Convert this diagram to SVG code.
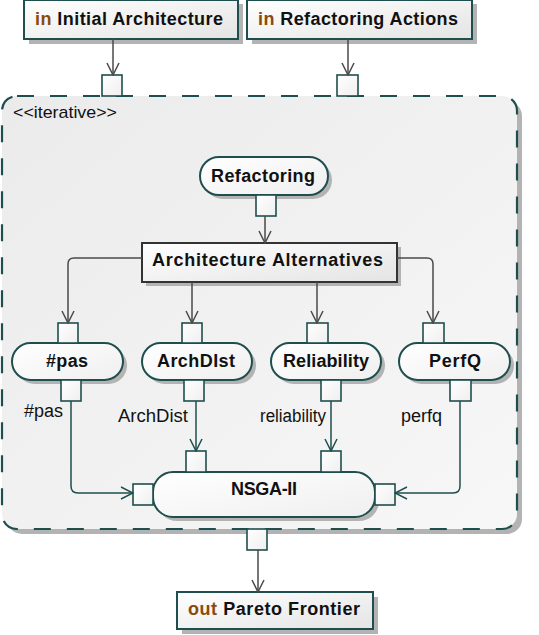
<svg xmlns="http://www.w3.org/2000/svg" width="539" height="635" viewBox="0 0 539 635">
<defs>
<linearGradient id="gBox" x1="0" y1="0" x2="1" y2="1"><stop offset="0" stop-color="#ffffff"/><stop offset="1" stop-color="#e4e4e4"/></linearGradient>
<linearGradient id="gNode" x1="0" y1="0" x2="1" y2="1"><stop offset="0" stop-color="#ffffff"/><stop offset="1" stop-color="#efefef"/></linearGradient>
<linearGradient id="gRegion" x1="0" y1="0" x2="1" y2="1"><stop offset="0" stop-color="#ebebeb"/><stop offset="1" stop-color="#f7f7f7"/></linearGradient>
<marker id="arrG" viewBox="0 0 14 14" refX="13" refY="7" markerWidth="14" markerHeight="14" markerUnits="userSpaceOnUse" orient="auto"><path d="M1,1 L13,7 L1,13" fill="none" stroke="#4a4a4a" stroke-width="1.5"/></marker>
<marker id="arrT" viewBox="0 0 14 14" refX="13" refY="7" markerWidth="14" markerHeight="14" markerUnits="userSpaceOnUse" orient="auto"><path d="M1,1 L13,7 L1,13" fill="none" stroke="#1f4e4e" stroke-width="1.5"/></marker>
</defs>
<style>
.box{fill:url(#gBox);stroke:#1f4e4e;stroke-width:2}
.node{fill:url(#gNode);stroke:#1f4e4e;stroke-width:2}
.pin{fill:url(#gNode);stroke:#1f4e4e;stroke-width:1.6}
.sh{fill:#b3b3b3}
.bt{font-family:"Liberation Sans",Arial,sans-serif;font-weight:bold;font-size:18px;fill:#111}
.kw{fill:#8a4a0a}
.lbl{font-family:"Liberation Sans",Arial,sans-serif;font-size:18px;fill:#111}
.ster{font-family:"Liberation Sans",Arial,sans-serif;font-size:17px;fill:#111}
.cg{fill:none;stroke:#4a4a4a;stroke-width:1.5}
.ct{fill:none;stroke:#1f4e4e;stroke-width:1.5}
</style>

<g id="region">
<rect x="7" y="101" width="515" height="433" rx="15" class="sh"/>
<rect x="2" y="96" width="515" height="433" rx="15" fill="url(#gRegion)" stroke="#1f4e4e" stroke-width="2.2" stroke-dasharray="17 16"/>
<text x="13" y="118" class="ster" textLength="104" lengthAdjust="spacingAndGlyphs">&lt;&lt;iterative&gt;&gt;</text>
</g>

<g id="in-initial-architecture">
<rect x="29" y="4" width="214" height="40" class="sh"/>
<rect x="24" y="0" width="214" height="39" class="box"/>
<text x="35" y="25" class="bt" textLength="188" lengthAdjust="spacing"><tspan class="kw">in</tspan> Initial Architecture</text>
</g>

<g id="in-refactoring-actions">
<rect x="252" y="4" width="225" height="40" class="sh"/>
<rect x="247" y="0" width="225" height="39" class="box"/>
<text x="258" y="25" class="bt" textLength="200" lengthAdjust="spacing"><tspan class="kw">in</tspan> Refactoring Actions</text>
</g>

<g id="pins-region">
<rect x="102" y="75" width="20" height="21" class="pin"/>
<rect x="337" y="75" width="21" height="21" class="pin"/>
<rect x="247" y="529" width="20" height="21" class="pin"/>
</g>

<g id="refactoring">
<rect x="204" y="161" width="128" height="38" rx="19" class="sh"/>
<rect x="200" y="157" width="128" height="38" rx="19" class="node"/>
<text x="211" y="182" class="bt" textLength="104" lengthAdjust="spacing">Refactoring</text>
<rect x="256" y="195" width="20" height="21" class="pin"/>
</g>

<g id="architecture-alternatives">
<rect x="146" y="247" width="255" height="39" class="sh"/>
<rect x="142" y="243" width="255" height="39" fill="url(#gBox)" stroke="#333" stroke-width="2"/>
<text x="152" y="266" class="bt" textLength="231" lengthAdjust="spacing">Architecture Alternatives</text>
</g>

<g id="pas">
<rect x="16" y="347" width="111" height="37" rx="18.5" class="sh"/>
<rect x="12" y="343" width="111" height="37" rx="18.5" class="node"/>
<text x="46" y="367" class="bt" textLength="42" lengthAdjust="spacing">#pas</text>
<rect x="58" y="323" width="20" height="20" class="pin"/>
<rect x="61" y="380" width="20" height="21" class="pin"/>
</g>

<g id="archdist">
<rect x="146" y="347" width="110" height="37" rx="18.5" class="sh"/>
<rect x="142" y="343" width="110" height="37" rx="18.5" class="node"/>
<text x="157" y="367" class="bt" textLength="78" lengthAdjust="spacing">ArchDIst</text>
<rect x="182" y="323" width="20" height="20" class="pin"/>
<rect x="184" y="380" width="20" height="21" class="pin"/>
</g>

<g id="reliability">
<rect x="275" y="347" width="110" height="37" rx="18.5" class="sh"/>
<rect x="271" y="343" width="110" height="37" rx="18.5" class="node"/>
<text x="283" y="367" class="bt" textLength="86" lengthAdjust="spacing">Reliability</text>
<rect x="307" y="323" width="21" height="20" class="pin"/>
<rect x="321" y="380" width="20" height="21" class="pin"/>
</g>

<g id="perfq">
<rect x="403" y="347" width="111" height="37" rx="18.5" class="sh"/>
<rect x="399" y="343" width="111" height="37" rx="18.5" class="node"/>
<text x="429" y="367" class="bt" textLength="52" lengthAdjust="spacing">PerfQ</text>
<rect x="423" y="323" width="21" height="20" class="pin"/>
<rect x="450" y="380" width="21" height="21" class="pin"/>
</g>

<g id="nsga-ii">
<rect x="157" y="476" width="222" height="45" rx="20" class="sh"/>
<rect x="153" y="472" width="222" height="45" rx="20" class="node"/>
<text x="231" y="495" class="bt" textLength="66" lengthAdjust="spacing">NSGA-II</text>
<rect x="186" y="451" width="20" height="21" class="pin"/>
<rect x="321" y="451" width="20" height="21" class="pin"/>
<rect x="133" y="484" width="20" height="21" class="pin"/>
<rect x="375" y="484" width="20" height="21" class="pin"/>
</g>

<g id="out-pareto-frontier">
<rect x="182" y="597" width="196" height="37" class="sh"/>
<rect x="177" y="592" width="196" height="37" class="box"/>
<text x="188" y="615" class="bt" textLength="172" lengthAdjust="spacing"><tspan class="kw">out</tspan> Pareto Frontier</text>
</g>

<g id="connectors">
<path d="M113,39 V75" class="cg" marker-end="url(#arrG)"/>
<path d="M348,39 V75" class="cg" marker-end="url(#arrG)"/>
<path d="M265,216 V243" class="cg" marker-end="url(#arrG)"/>
<path d="M142,258 H74 Q68,258 68,264 V323" class="cg" marker-end="url(#arrG)"/>
<path d="M192,282 V323" class="cg" marker-end="url(#arrG)"/>
<path d="M317,282 V323" class="cg" marker-end="url(#arrG)"/>
<path d="M397,258 H427 Q433,258 433,264 V323" class="cg" marker-end="url(#arrG)"/>
<path d="M71,401 V486 Q71,493 78,493 H133" class="ct" marker-end="url(#arrT)"/>
<path d="M196,401 V451" class="ct" marker-end="url(#arrT)"/>
<path d="M331,401 V451" class="ct" marker-end="url(#arrT)"/>
<path d="M460,401 V486 Q460,493 453,493 H395" class="ct" marker-end="url(#arrT)"/>
<path d="M258,550 V592" class="cg" marker-end="url(#arrG)"/>
<text x="24" y="417" class="lbl">#pas</text>
<text x="118" y="422" class="lbl" textLength="70" lengthAdjust="spacingAndGlyphs">ArchDist</text>
<text x="260" y="422" class="lbl" textLength="66" lengthAdjust="spacingAndGlyphs">reliability</text>
<text x="401" y="422" class="lbl">perfq</text>
</g>
</svg>
